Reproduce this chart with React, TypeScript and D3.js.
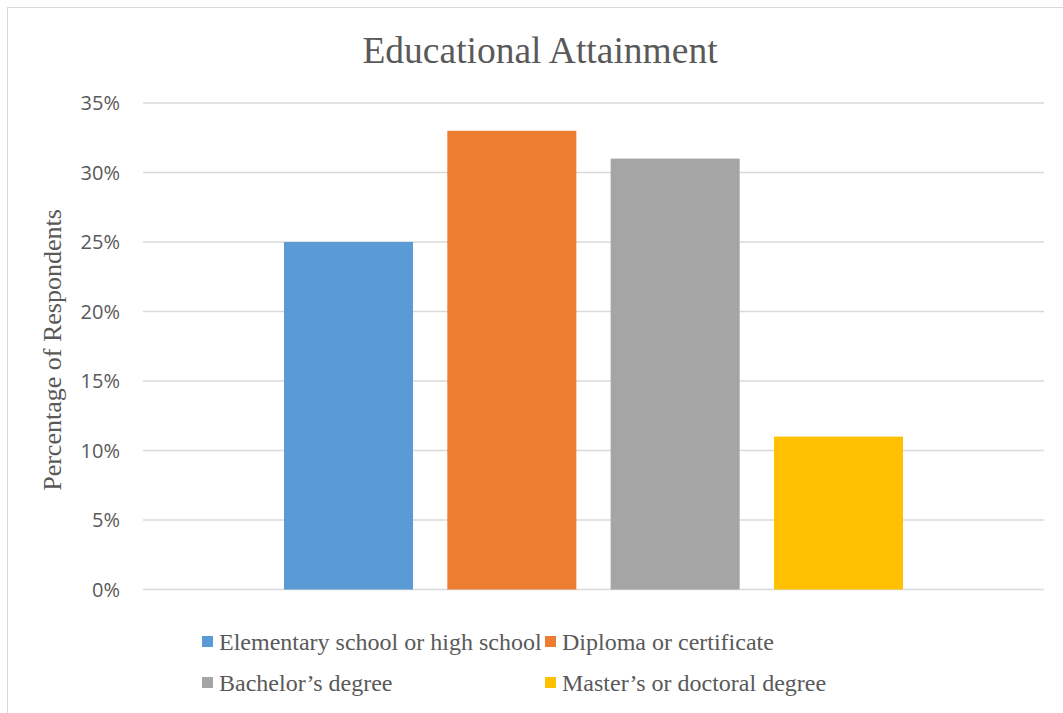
import React from "react";
import * as d3 from "d3";

const categories = ["Elementary school or high school", "Diploma or certificate", "Bachelor’s degree", "Master’s or doctoral degree"];
const values = [25, 33, 31, 11];
const colors = ["#5b9bd5", "#ed7d31", "#a5a5a5", "#ffc000"];
const yTicks = [0, 5, 10, 15, 20, 25, 30, 35];

export default function App() {
  const W = 1063, H = 713;
  const plotL = 143, plotR = 1044, plotT = 103, plotB = 589.5;
  const y = d3.scaleLinear().domain([0, 35]).range([plotB, plotT]);
  const x = d3.scaleBand<string>().domain(categories).range([284, 903]).paddingInner(0.21).paddingOuter(0);
  const serif = "'Liberation Serif', 'Times New Roman', serif";
  const sans = "'Open Sans', 'Noto Sans', sans-serif";
  const legendPos = [
    { sx: 202, sy: 636 },
    { sx: 545, sy: 636 },
    { sx: 202, sy: 677 },
    { sx: 545, sy: 677 },
  ];
  return (
    <svg width={W} height={H} style={{ position: "absolute", left: 0, top: 0, background: "#fff" }}>
      <rect x={7.5} y={7.5} width={1060} height={720} fill="#fff" stroke="#d9d9d9" strokeWidth={1} />
      <text x={540} y={63} textAnchor="middle" fontFamily={serif} fontSize={37.5} fill="#595959">Educational Attainment</text>
      {yTicks.map((t) => (
        <g key={t}>
          <line x1={plotL} x2={plotR} y1={y(t)} y2={y(t)} stroke="#d9d9d9" strokeWidth={1.5} />
          <text x={120} y={y(t)} dy="0.35em" textAnchor="end" fontFamily={sans} fontSize={20} fill="#595959">{t}%</text>
        </g>
      ))}
      <text transform={`translate(61,350) rotate(-90)`} textAnchor="middle" fontFamily={serif} fontSize={26} fill="#595959">Percentage of Respondents</text>
      {categories.map((c, i) => (
        <rect key={c} x={x(c)} y={y(values[i])} width={x.bandwidth()} height={y(0) - y(values[i])} fill={colors[i]} />
      ))}
      {categories.map((c, i) => (
        <g key={"l" + c}>
          <rect x={legendPos[i].sx} y={legendPos[i].sy} width={11} height={11} fill={colors[i]} />
          <text x={legendPos[i].sx + 17} y={legendPos[i].sy + 14} fontFamily={serif} fontSize={24} fill="#595959">{c}</text>
        </g>
      ))}
    </svg>
  );
}
